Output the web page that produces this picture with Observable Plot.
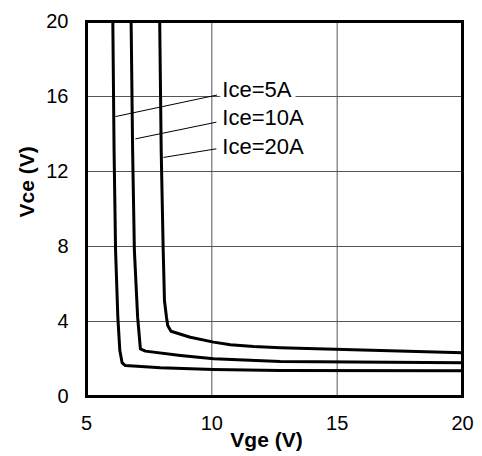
<!DOCTYPE html>
<html><head><meta charset="utf-8">
<script src="https://cdn.jsdelivr.net/npm/d3@7"></script>
<script src="https://cdn.jsdelivr.net/npm/@observablehq/plot@0.6"></script>
<style>body{margin:0;background:#fff}</style>
</head><body><div id="chart"></div>
<script>
const seriesNames = ["Ice=5A", "Ice=10A", "Ice=20A"];

const vge5A = [6.05, 6.10, 6.16, 6.25, 6.33, 6.42, 6.55, 7.95, 10.07, 12.73, 20];
const vce5A = [20, 13.12, 7.79, 4.23, 2.45, 1.80, 1.65, 1.53, 1.44, 1.39, 1.37];

const vge10A = [6.78, 6.84, 6.91, 7.04, 7.15, 7.35, 8.75, 10.07, 12.73, 20];
const vce10A = [20, 13.12, 7.79, 4.23, 2.54, 2.42, 2.19, 2.01, 1.87, 1.80];

const vge20A = [7.92, 7.98, 8.06, 8.11, 8.19, 8.24, 8.37, 9.14, 10.07, 10.74, 11.67, 12.73, 20];
const vce20A = [20, 13.12, 7.79, 5.12, 4.23, 3.79, 3.48, 3.16, 2.90, 2.76, 2.67, 2.60, 2.33];

const xTicks = [5, 10, 15, 20];
const yTicks = [0, 4, 8, 12, 16, 20];
const gridX = [10, 15];
const gridY = [4, 8, 12, 16];

// label anchors and leader lines (data units)
const labelVge = [10.42, 10.42, 10.42];
const labelVce = [16.0, 14.49, 12.94];
const leaderVge1 = [6.155, 6.95, 8.07];
const leaderVce1 = [14.93, 13.74, 12.75];
const leaderVge2 = [10.21, 10.18, 10.18];
const leaderVce2 = [16.08, 14.63, 13.21];

const curves = [[vge5A, vce5A], [vge10A, vce10A], [vge20A, vce20A]];
const data = curves.flatMap(([xs, ys], i) => xs.map((x, j) => ({series: seriesNames[i], vge: x, vce: ys[j]})));
const labels = seriesNames.map((s, i) => ({s, x: labelVge[i], y: labelVce[i]}));
const leaders = seriesNames.map((s, i) => ({x1: leaderVge1[i], y1: leaderVce1[i], x2: leaderVge2[i], y2: leaderVce2[i]}));

const font = "'Liberation Sans', Arial, sans-serif";

const chart = Plot.plot({
  width: 482,
  height: 456,
  marginLeft: 86,
  marginRight: 20,
  marginTop: 21,
  marginBottom: 60,
  x: {domain: [5, 20]},
  y: {domain: [0, 20]},
  style: {fontFamily: font, fontSize: "20px", color: "black", background: "white"},
  marks: [
    Plot.ruleX(gridX, {stroke: "#555", strokeWidth: 1}),
    Plot.ruleY(gridY, {stroke: "#555", strokeWidth: 1}),
    Plot.line(data, {x: "vge", y: "vce", z: "series", stroke: "black", strokeWidth: 3, strokeLinejoin: "round"}),
    Plot.link(leaders, {x1: "x1", y1: "y1", x2: "x2", y2: "y2", stroke: "black", strokeWidth: 1}),
    Plot.text(labels, {x: "x", y: "y", text: "s", textAnchor: "start", lineAnchor: "bottom", fontSize: 22, fill: "black", stroke: "white", strokeWidth: 8}),
    Plot.axisX({ticks: xTicks, tickSize: 0, tickPadding: 19, label: null, fontSize: 20}),
    Plot.axisY({ticks: yTicks, tickSize: 0, tickPadding: 18, label: null, fontSize: 20}),
    Plot.text(["Vge (V)"], {frameAnchor: "bottom", dx: -8, dy: 50, lineAnchor: "bottom", fontWeight: "bold", fontSize: 21, fill: "black"}),
    Plot.text(["Vce (V)"], {frameAnchor: "left", dx: -53, dy: 8.5, rotate: -90, lineAnchor: "bottom", fontWeight: "bold", fontSize: 21, fill: "black"}),
    Plot.frame({stroke: "black", strokeWidth: 3})
  ]
});
document.getElementById("chart").appendChild(chart);
</script>
</body></html>
